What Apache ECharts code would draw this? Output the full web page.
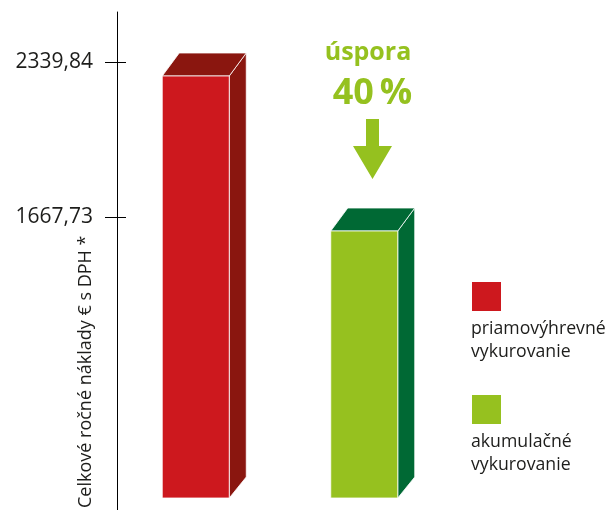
<!DOCTYPE html>
<html>
<head>
<meta charset="utf-8">
<script src="https://cdn.jsdelivr.net/npm/echarts@6/dist/echarts.min.js"></script>
<style>
html,body{margin:0;padding:0;background:#fff;}
#chart{width:609px;height:510px;}
</style>
</head>
<body>
<div id="chart"></div>
<script>
// ---- data ----
const categories = ['priamovýhrevné vykurovanie', 'akumulačné vykurovanie'];
const costs = [2339.84, 1667.73];
const tickValues = [2339.84, 1667.73];
const legendLines = [['priamovýhrevné', 'vykurovanie'], ['akumulačné', 'vykurovanie']];
const axisTitle = 'Celkové ročné náklady € s DPH *';
const savingWord = 'úspora';
const savingPercent = '40\u2009%';

// ---- styles ----
const frontColors = ['#cd181e', '#96c11f'];
const darkColors = ['#8a160f', '#006934'];
const textColor = '#1d1d1b';
const accentGreen = '#95c11f';
const Y_MIN = 397.2, Y_MAX = 2556.65;
const FONT = '"Open Sans", "Noto Sans", sans-serif';

const chart = echarts.init(document.getElementById('chart'), null, {renderer: 'canvas'});

function fmt(v) { return v.toFixed(2).replace('.', ','); }

const legendGraphics = [];
legendLines.forEach((lines, i) => {
  const top = 282 + i * 113;
  legendGraphics.push({
    type: 'rect', left: 472, top: top,
    shape: {width: 29, height: 29},
    style: {fill: frontColors[i]}
  });
  legendGraphics.push({
    type: 'text', x: 471, y: top + 36,
    style: {text: lines.join('\n'), font: '17.7px ' + FONT, fill: textColor, lineHeight: 22.5, textVerticalAlign: 'top'}
  });
});

const option = {
  animation: false,
  backgroundColor: '#fff',
  grid: {left: 117, right: 155, top: 12, bottom: 0, containLabel: false},
  xAxis: {
    type: 'category', data: categories, show: false
  },
  yAxis: [{
    type: 'value', min: Y_MIN, max: Y_MAX, position: 'left',
    axisLine: {show: true, lineStyle: {color: '#000', width: 1}},
    axisTick: {show: true, length: 12, customValues: tickValues, lineStyle: {color: '#000', width: 1}},
    axisLabel: {show: true, customValues: tickValues, margin: 24, formatter: fmt,
      color: textColor, fontSize: 21, fontFamily: FONT},
    splitLine: {show: false}
  }, {
    type: 'value', min: Y_MIN, max: Y_MAX, position: 'left',
    axisLine: {show: false},
    axisTick: {show: true, inside: true, length: 9, customValues: tickValues, lineStyle: {color: '#000', width: 1}},
    axisLabel: {show: false},
    splitLine: {show: false}
  }],
  series: [{
    type: 'custom',
    name: 'Celkové ročné náklady',
    data: costs.map((v, i) => [i, v]),
    encode: {x: 0, y: 1},
    renderItem: function (params, api) {
      const idx = api.value(0);
      const top = api.coord([idx, api.value(1)]);
      const base = api.coord([idx, Y_MIN]);
      const fw = 67, dx = 17, dy = 23;
      const left = top[0] - 39;
      const fTop = top[1] + 14;
      const bottom = base[1] - 12;
      const stroke = {stroke: '#ffffff', lineWidth: 0.8};
      return {
        type: 'group',
        children: [
          {type: 'polygon', shape: {points: [[left + fw, fTop], [left + fw + dx, fTop - dy], [left + fw + dx, bottom - 21], [left + fw, bottom]]},
            style: Object.assign({fill: darkColors[idx]}, stroke)},
          {type: 'polygon', shape: {points: [[left, fTop], [left + fw, fTop], [left + fw + dx, fTop - dy], [left + dx, fTop - dy]]},
            style: Object.assign({fill: darkColors[idx]}, stroke)},
          {type: 'rect', shape: {x: left, y: fTop, width: fw, height: bottom - fTop},
            style: Object.assign({fill: frontColors[idx]}, stroke)}
        ]
      };
    }
  }],
  graphic: [
    {type: 'text', x: 86, y: 508, rotation: Math.PI / 2,
      style: {text: axisTitle, font: '18px ' + FONT, fill: textColor, textAlign: 'left', textVerticalAlign: 'middle'}},
    {type: 'text', x: 368, y: 40,
      style: {text: savingWord, font: 'bold 25px ' + FONT, fill: accentGreen, textAlign: 'center', textVerticalAlign: 'top'}},
    {type: 'text', x: 372.5, y: 76,
      style: {text: savingPercent, font: 'bold 36px ' + FONT, fill: accentGreen, textAlign: 'center', textVerticalAlign: 'top'}},
    {type: 'polygon', shape: {points: [[366, 119], [379, 119], [379, 146], [392, 146], [372.5, 179], [353, 146], [366, 146]]},
      style: {fill: accentGreen}}
  ].concat(legendGraphics)
};
chart.setOption(option);
</script>
</body>
</html>
